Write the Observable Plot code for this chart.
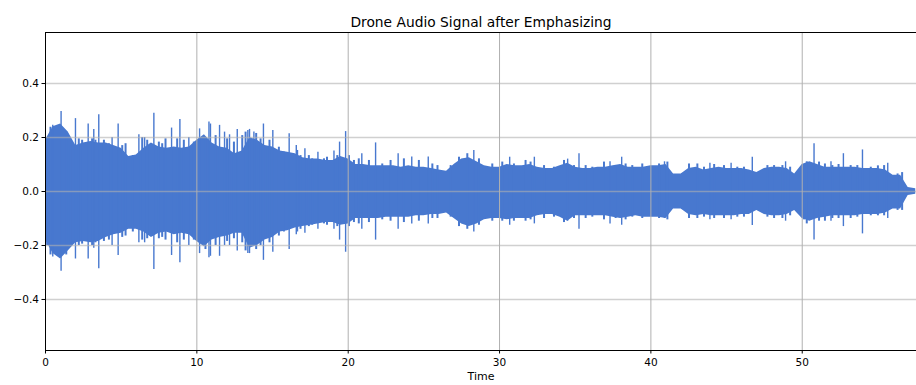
<!DOCTYPE html>
<html>
<head>
<meta charset="utf-8">
<script src="https://cdn.jsdelivr.net/npm/d3@7"></script>
<script src="https://cdn.jsdelivr.net/npm/@observablehq/plot@0.6"></script>
<style>
  html, body { margin: 0; padding: 0; background: #fff; overflow: hidden; }
  #chart { width: 916px; height: 385px; }
</style>
</head>
<body>
<div id="chart"></div>
<script>
// ---- data ----
const title = "Drone Audio Signal after Emphasizing";
const xLabel = "Time";
const xTicks = [0, 10, 20, 30, 40, 50];
const yTicks = [-0.4, -0.2, 0.0, 0.2, 0.4];
const xDomain = [0, 57.55];
const yDomain = [-0.589, 0.589];

// envelope of the waveform body (seconds, upper, lower)
const envTime = [0,0.5,1,1.5,2,2.5,3,3.5,4,4.5,5,5.5,6,6.5,7,7.5,8,8.5,9,9.5,
  10,10.5,11,11.5,12,12.5,13,13.5,14,14.5,15,15.5,16,16.5,17,17.5,18,18.5,19,19.5,
  20,20.5,21,21.5,22,22.5,23,23.5,24,24.5,25,25.5,26,26.5,27,27.5,28,28.5,29,29.5,
  30,30.5,31,31.5,32,32.5,33,33.5,34,34.5,35,35.5,36,36.5,37,37.5,38,38.5,39,39.5,
  40,40.5,41,41.5,42,42.5,43,43.5,44,44.5,45,45.5,46,46.5,47,47.5,48,48.5,49,49.5,
  50,50.5,51,51.5,52,52.5,53,53.5,54,54.5,55,55.5,56,56.5,57,57.5];
const envUpper = [0.19,0.24,0.25,0.22,0.17,0.18,0.185,0.18,0.18,0.17,0.16,0.13,0.135,0.16,0.18,0.165,0.16,0.165,0.16,0.165,
  0.19,0.21,0.18,0.165,0.16,0.14,0.15,0.2,0.19,0.17,0.165,0.15,0.145,0.14,0.125,0.12,0.12,0.115,0.115,0.13,
  0.12,0.1,0.1,0.095,0.095,0.095,0.095,0.09,0.095,0.09,0.09,0.085,0.08,0.075,0.1,0.12,0.125,0.11,0.095,0.09,
  0.09,0.1,0.095,0.095,0.1,0.09,0.085,0.085,0.095,0.105,0.09,0.085,0.085,0.09,0.09,0.095,0.1,0.09,0.09,0.09,
  0.095,0.095,0.1,0.065,0.065,0.085,0.09,0.08,0.085,0.09,0.085,0.085,0.085,0.08,0.07,0.085,0.09,0.09,0.085,0.065,
  0.1,0.11,0.1,0.09,0.09,0.09,0.09,0.09,0.085,0.085,0.085,0.08,0.06,0.06,0.015,0.01];
const envLower = [-0.18,-0.23,-0.25,-0.22,-0.19,-0.185,-0.19,-0.185,-0.17,-0.16,-0.155,-0.14,-0.14,-0.15,-0.17,-0.155,-0.15,-0.16,-0.155,-0.16,
  -0.185,-0.205,-0.18,-0.17,-0.165,-0.155,-0.155,-0.21,-0.2,-0.18,-0.17,-0.15,-0.145,-0.135,-0.13,-0.125,-0.12,-0.115,-0.115,-0.125,
  -0.12,-0.1,-0.1,-0.1,-0.1,-0.095,-0.095,-0.095,-0.095,-0.09,-0.09,-0.085,-0.085,-0.08,-0.1,-0.12,-0.13,-0.12,-0.105,-0.1,
  -0.1,-0.105,-0.1,-0.1,-0.1,-0.09,-0.085,-0.085,-0.095,-0.11,-0.09,-0.09,-0.09,-0.09,-0.09,-0.095,-0.1,-0.095,-0.09,-0.095,
  -0.095,-0.095,-0.1,-0.065,-0.065,-0.085,-0.09,-0.085,-0.09,-0.09,-0.09,-0.09,-0.085,-0.085,-0.07,-0.085,-0.09,-0.09,-0.085,-0.07,
  -0.1,-0.11,-0.1,-0.095,-0.09,-0.09,-0.09,-0.09,-0.085,-0.085,-0.085,-0.08,-0.065,-0.065,-0.015,-0.01];

// tall narrow peaks sticking out of the body (seconds, top, bottom)
const spikeTime = [0.48,1.03,1.98,2.82,3.19,3.52,4.4,4.8,6.17,6.55,7.16,8.33,8.88,9.47,10.18,10.8,10.9,11.5,11.83,12.16,
  12.67,13.37,13.48,13.77,14.4,15.02,16.1,16.57,17.14,18.0,19.06,19.43,19.83,20.9,21.81,23.3,24.2,25.29,28.3,30.67,
  32.3,34.5,35.25,37.3,38.07,40.9,43.9,45.3,46.7,48.9,50.78,51.9,52.72,53.98,55.65];
const spikeTop = [0.245,0.296,0.27,0.25,0.23,0.284,0.2,0.25,0.21,0.2,0.29,0.235,0.267,0.2,0.232,0.257,0.25,0.245,0.22,0.21,
  0.23,0.226,0.23,0.22,0.25,0.226,0.214,0.17,0.158,0.145,0.15,0.183,0.222,0.14,0.18,0.14,0.128,0.128,0.152,0.127,
  0.127,0.12,0.14,0.11,0.127,0.11,0.105,0.105,0.127,0.11,0.177,0.11,0.14,0.154,0.105];
const spikeBottom = [-0.243,-0.295,-0.25,-0.25,-0.21,-0.286,-0.2,-0.237,-0.19,-0.19,-0.289,-0.237,-0.264,-0.2,-0.23,-0.245,-0.24,-0.24,-0.2,-0.2,
  -0.22,-0.23,-0.23,-0.2,-0.255,-0.225,-0.215,-0.16,-0.155,-0.14,-0.14,-0.18,-0.225,-0.14,-0.18,-0.14,-0.12,-0.12,-0.15,-0.125,
  -0.12,-0.11,-0.14,-0.12,-0.125,-0.1,-0.105,-0.105,-0.126,-0.11,-0.18,-0.11,-0.13,-0.157,-0.1];

// small ragged peaks along the body edge (seconds, top, bottom)
const minorTime = [0.11,0.33,1.37,1.65,2.2,2.42,3.08,3.3,3.86,4.19,5.07,5.29,5.77,6.39,6.72,7.49,7.71,7.93,8.7,9.14,
  9.8,10.57,11.24,12.0,12.45,13.0,13.22,13.92,14.21,14.65,14.8,15.42,15.75,16.63,16.85,17.4,17.62,18.4,18.6,19.28,
  20.05,20.38,20.7,21.37,22.25,22.8,23.68,24.67,25.56,25.9,26.77,27.32,27.87,28.64,29.52,30.18,30.95,31.72,32.05,32.94,
  33.6,34.26,34.92,35.69,36.13,36.9,37.67,38.33,38.77,39.43,40.54,41.09,42.52,43.07,43.51,44.18,44.83,45.71,46.15,47.7,
  48.14,48.69,49.2,50.12,50.3,51.11,51.5,51.99,52.4,53.2,53.64,54.53,55.0,55.41,56.3,56.6];
const minorTop = [0.2,0.238,0.22,0.17,0.195,0.19,0.195,0.19,0.19,0.177,0.17,0.177,0.133,0.2,0.19,0.183,0.177,0.195,0.195,0.19,
  0.183,0.2,0.207,0.195,0.183,0.207,0.22,0.215,0.195,0.158,0.19,0.164,0.146,0.152,0.133,0.133,0.121,0.121,0.127,0.133,
  0.133,0.115,0.121,0.115,0.102,0.115,0.121,0.115,0.102,0.096,0.096,0.127,0.14,0.121,0.102,0.109,0.102,0.115,0.109,0.096,
  0.09,0.115,0.096,0.096,0.09,0.109,0.096,0.102,0.096,0.102,0.102,0.109,0.102,0.102,0.09,0.1,0.096,0.09,0.09,0.096,
  0.096,0.096,0.09,0.096,0.11,0.109,0.102,0.096,0.1,0.096,0.096,0.09,0.095,0.096,0.065,0.07];
const minorBottom = [-0.2,-0.235,-0.235,-0.2,-0.2,-0.195,-0.2,-0.19,-0.185,-0.18,-0.17,-0.165,-0.15,-0.18,-0.175,-0.175,-0.17,-0.18,-0.19,-0.18,
  -0.18,-0.215,-0.2,-0.185,-0.175,-0.19,-0.22,-0.215,-0.2,-0.17,-0.19,-0.165,-0.15,-0.15,-0.14,-0.13,-0.125,-0.12,-0.125,-0.13,
  -0.13,-0.115,-0.12,-0.115,-0.105,-0.11,-0.115,-0.11,-0.1,-0.1,-0.095,-0.13,-0.14,-0.125,-0.11,-0.11,-0.11,-0.11,-0.105,-0.1,
  -0.095,-0.115,-0.1,-0.1,-0.095,-0.105,-0.1,-0.105,-0.095,-0.1,-0.1,-0.105,-0.1,-0.1,-0.095,-0.1,-0.1,-0.095,-0.095,-0.095,
  -0.1,-0.1,-0.09,-0.105,-0.12,-0.11,-0.11,-0.1,-0.1,-0.1,-0.095,-0.09,-0.09,-0.09,-0.07,-0.07];

// ---- tables for the library ----
const env = envTime.map((t, i) => ({t, hi: envUpper[i], lo: envLower[i]}));
const spikes = spikeTime.map((t, i) => ({t, hi: spikeTop[i], lo: spikeBottom[i]}));
const minor = minorTime.map((t, i) => ({t, hi: minorTop[i], lo: minorBottom[i]}));

const blue = "#4878cf";
const fmt = d => d.toFixed(1).replace("-", "\u2212");

const chart = Plot.plot({
  width: 916,
  height: 385,
  marginLeft: 45,
  marginRight: 0,
  marginTop: 32,
  marginBottom: 35,
  style: {fontFamily: "'DejaVu Sans', sans-serif", fontSize: "10.5px", color: "#000", background: "#fff", overflow: "visible"},
  x: {domain: xDomain, ticks: xTicks, tickSize: 3.5, tickPadding: 5, label: null},
  y: {domain: yDomain, ticks: yTicks, tickSize: 3.5, tickPadding: 3, tickFormat: fmt, label: null},
  marks: [
    Plot.areaY(env, {x: "t", y1: "lo", y2: "hi", fill: blue, curve: "linear"}),
    Plot.ruleX(minor, {x: "t", y1: "lo", y2: "hi", stroke: blue, strokeWidth: 2}),
    Plot.ruleX(spikes, {x: "t", y1: "lo", y2: "hi", stroke: blue, strokeWidth: 1.4}),
    Plot.ruleX(xTicks, {stroke: "#b0b0b0", strokeWidth: 1}),
    Plot.ruleY(yTicks, {stroke: "#b0b0b0", strokeOpacity: 0.6, strokeWidth: 1.5}),
    Plot.ruleX([xDomain[0]], {stroke: "#000", strokeWidth: 1}),
    Plot.ruleY(yDomain, {stroke: "#000", strokeWidth: 1}),
    Plot.text([title], {frameAnchor: "top", dy: -15, fontSize: 13.8, fill: "#000"}),
    Plot.text([xLabel], {frameAnchor: "bottom", dy: 29, fontSize: 11, fill: "#000"})
  ]
});
document.getElementById("chart").appendChild(chart);
</script>
</body>
</html>
